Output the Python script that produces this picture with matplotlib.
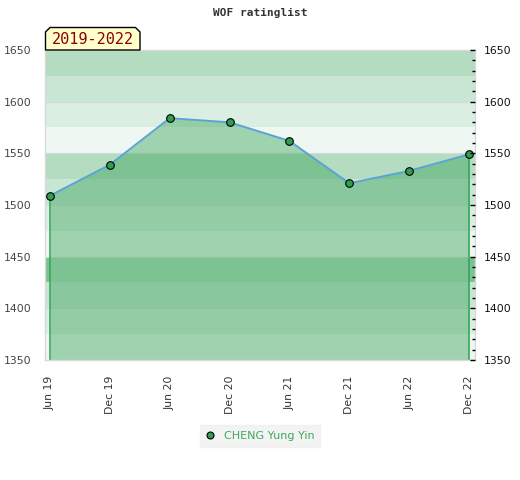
import numpy as np
import matplotlib.pyplot as plt
from matplotlib.patches import Polygon
from matplotlib.lines import Line2D
from matplotlib.ticker import MultipleLocator

# Rating history (half-year snapshots)
periods = ['Jun 19', 'Dec 19', 'Jun 20', 'Dec 20', 'Jun 21', 'Dec 21', 'Jun 22', 'Dec 22']
ratings = [1509, 1539, 1584, 1580, 1562, 1521, 1533, 1549]
player = 'CHENG Yung Yin'
period_label = '2019-2022'

# background bands, 25 points each, from top to bottom
band_edges = [1650, 1625, 1600, 1575, 1550, 1525, 1500, 1475, 1450, 1425, 1400, 1375, 1350]
band_colors = ['#b3dcc1', '#c8e6d3', '#dbeee2', '#eef7f1',
               '#b3dcc1', '#c8e6d3', '#dbeee2', '#eef7f1',
               '#b3dcc1', '#c8e6d3', '#dbeee2', '#eef7f1']
fill_color = '#329f55'

x = np.arange(len(periods))
xlim = (-5 / 59.86, 7 + 6 / 59.86)

fig = plt.figure(figsize=(5.2, 4.8), dpi=100)
ax = fig.add_axes([45 / 520, 1 - 360 / 480, 430 / 520, 310 / 480])

for top, bottom, c in zip(band_edges[:-1], band_edges[1:], band_colors):
    ax.axhspan(bottom, top, color=c, lw=0, zorder=0)

# the 1425-1450 band is shaded across the margins too
span = xlim[1] - xlim[0]
ax.axhspan(1425, 1450, xmin=0, xmax=(x[0] - xlim[0]) / span,
           color=fill_color, alpha=0.42, lw=0, zorder=0.4)
ax.axhspan(1425, 1450, xmin=(x[-1] - xlim[0]) / span, xmax=1,
           color=fill_color, alpha=0.42, lw=0, zorder=0.4)

for gy in range(1350, 1651, 50):
    ax.axhline(gy, color='#d9d9d9', lw=0.8, zorder=0.5)

# filled area under the rating line
ax.fill_between(x, ratings, 1350, color=fill_color, alpha=0.42, lw=0, zorder=1)

# drop lines at the first and last point
ax.vlines([x[0], x[-1]], 1350, [ratings[0], ratings[-1]], color='#2ea653', lw=1.1, zorder=2)

ax.plot(x, ratings, color='#5ba3d6', lw=1.4, zorder=3)
ax.plot(x, ratings, 'o', ms=5.5, mfc='#2f9e50', mec='black', mew=0.8, zorder=4)

ax.set_xlim(*xlim)
ax.set_ylim(1350, 1650)
ax.set_xticks(x)
ax.set_xticklabels(periods, rotation=90, fontsize=7.8, color='#333333')
ax.tick_params(axis='x', length=0, pad=11)
ax.yaxis.set_major_locator(MultipleLocator(50))
ax.tick_params(axis='y', length=0, pad=10, labelsize=7.8, labelcolor='#444444')
for s in ax.spines.values():
    s.set_color('#d9d9d9')
    s.set_linewidth(1)

ax2 = ax.twinx()
ax2.set_ylim(1350, 1650)
ax2.yaxis.set_major_locator(MultipleLocator(50))
ax2.yaxis.set_minor_locator(MultipleLocator(10))
ax2.tick_params(axis='y', which='major', direction='in', length=3.5, width=1,
                pad=6, labelsize=7.8, labelcolor='#111111')
ax2.tick_params(axis='y', which='minor', direction='in', length=2, width=1)
for s in ax2.spines.values():
    s.set_visible(False)

# title
fig.text(260 / 520, 1 - 13 / 480, 'WOF ratinglist', ha='center', va='center',
         family='DejaVu Sans Mono', weight='bold', fontsize=8, color='#333333')

# period tag with bevelled top corners
l, r, t, b, bev = 45.5, 140, 27.5, 50, 4.5
pts = [(l, b), (l, t + bev), (l + bev, t), (r - bev, t), (r, t + bev), (r, b)]
tag = Polygon([(px / 520, 1 - py / 480) for px, py in pts], closed=True,
              transform=fig.transFigure, fc='#ffffcc', ec='black', lw=1, zorder=5)
fig.patches.append(tag)
fig.text((l + r) / 2 / 520, 1 - 40 / 480, period_label, ha='center', va='center',
         family='DejaVu Sans Mono', fontsize=11, color='#8b0000', zorder=6)

# legend
handle = Line2D([], [], ls='none', marker='o', ms=5, mfc='#2f9e50', mec='black', mew=0.8)
leg = fig.legend([handle], [player], loc='center', bbox_to_anchor=(260 / 520, 1 - 436 / 480),
                 frameon=True, fontsize=8, handlelength=0.8, handletextpad=0.9,
                 borderpad=0.5, borderaxespad=0, fancybox=False)
leg.get_frame().set_facecolor('#f0f0f0')
leg.get_frame().set_edgecolor('#f0f0f0')
for t_ in leg.get_texts():
    t_.set_color('#3aaa5c')

fig.savefig('out.png', dpi=100)
